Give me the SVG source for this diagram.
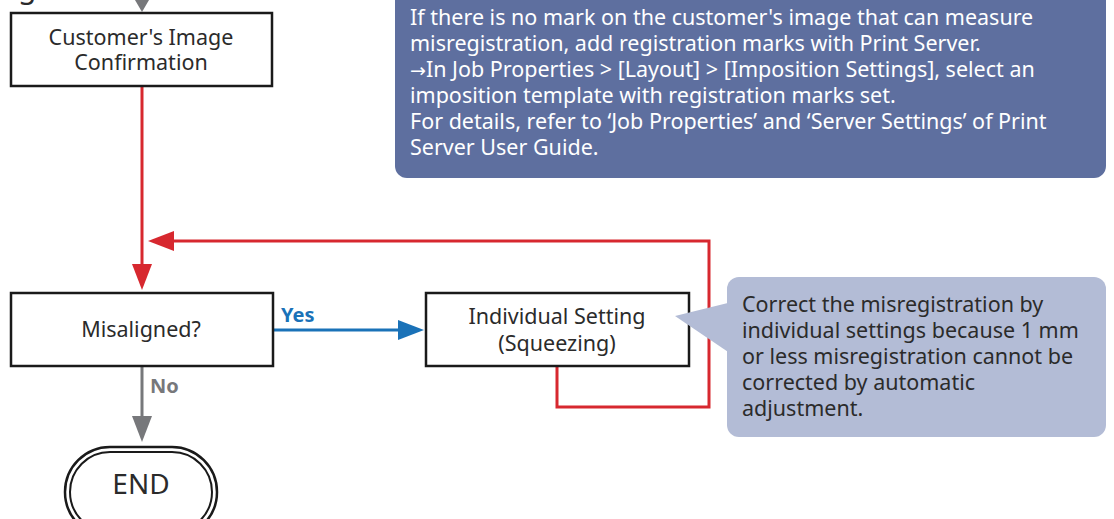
<svg xmlns="http://www.w3.org/2000/svg" width="1114" height="519" viewBox="0 0 1114 519">
<style>
.box{fill:#fff;stroke:#1a1a1a;stroke-width:2.5}
.t{font-family:"Noto Sans","Open Sans",sans-serif;font-size:21.5px;fill:#2b2b2b;text-anchor:middle}
.c1{font-family:"Noto Sans","Open Sans",sans-serif;font-size:21.5px;fill:#ffffff}
.c2{font-family:"Noto Sans","Open Sans",sans-serif;font-size:21.5px;fill:#2b2b2b}
.lbl{font-family:"Noto Sans","Open Sans",sans-serif;font-size:20px;font-weight:bold}
.red{fill:none;stroke:#d7282f;stroke-width:3}
</style>
<text x="18" y="-2" font-family="Noto Sans, sans-serif" font-size="30" fill="#2b2b2b">g</text>
<g id="callout-top">
<rect x="395" y="-20" width="711" height="198" rx="12" fill="#5e6f9f"/>
<text class="c1" x="410" y="25">If there is no mark on the customer's image that can measure</text>
<text class="c1" x="410" y="51">misregistration, add registration marks with Print Server.</text>
<text class="c1" x="410" y="77"><tspan font-family="DejaVu Sans, sans-serif" font-size="19">→</tspan>In Job Properties &gt; [Layout] &gt; [Imposition Settings], select an</text>
<text class="c1" x="410" y="103">imposition template with registration marks set.</text>
<text class="c1" x="410" y="129">For details, refer to ‘Job Properties’ and ‘Server Settings’ of Print</text>
<text class="c1" x="410" y="155">Server User Guide.</text>
</g>
<g id="connectors">
<path d="M135,0 L149,0 L142,12 Z" fill="#77787b"/>
<line x1="142" y1="87" x2="142" y2="266" stroke="#d7282f" stroke-width="3"/>
<path d="M132,264 L152,264 L142,290 Z" fill="#d7282f"/>
<polyline class="red" points="557,367 557,407 709,407 709,241 172,241"/>
<path d="M174,231 L174,251 L148,241 Z" fill="#d7282f"/>
<line x1="273" y1="330" x2="400" y2="330" stroke="#1a72b8" stroke-width="3"/>
<path d="M398,320 L398,340 L424,330 Z" fill="#1a72b8"/>
<text class="lbl" x="281" y="322" fill="#1a72b8">Yes</text>
<line x1="142" y1="367" x2="142" y2="418" stroke="#77787b" stroke-width="3"/>
<path d="M132,416 L152,416 L142,442 Z" fill="#77787b"/>
<text class="lbl" x="150" y="393" fill="#77787b">No</text>
</g>
<g id="node-confirm">
<rect class="box" x="11" y="13" width="261" height="73"/>
<text class="t" x="141" y="45">Customer's Image</text>
<text class="t" x="141" y="70">Confirmation</text>
</g>
<g id="node-misaligned">
<rect class="box" x="11" y="293" width="262" height="73"/>
<text class="t" x="141" y="337">Misaligned?</text>
</g>
<g id="node-individual">
<rect class="box" x="426" y="293" width="263" height="73"/>
<text class="t" x="557" y="324">Individual Setting</text>
<text class="t" x="557" y="351">(Squeezing)</text>
</g>
<g id="node-end">
<rect x="65" y="447" width="152" height="90" rx="45" fill="#fff" stroke="#1a1a1a" stroke-width="2.5"/>
<rect x="70" y="452" width="142" height="80" rx="40" fill="none" stroke="#1a1a1a" stroke-width="2"/>
<text class="t" x="141" y="494" style="font-size:28px">END</text>
</g>
<g id="callout-bottom">
<path d="M675,316 L740,300 L740,360 Z" fill="#b3bcd6"/>
<rect x="727" y="277" width="379" height="160" rx="12" fill="#b3bcd6"/>
<text class="c2" x="742" y="312">Correct the misregistration by</text>
<text class="c2" x="742" y="338">individual settings because 1 mm</text>
<text class="c2" x="742" y="364">or less misregistration cannot be</text>
<text class="c2" x="742" y="390">corrected by automatic</text>
<text class="c2" x="742" y="416">adjustment.</text>
</g>
</svg>
